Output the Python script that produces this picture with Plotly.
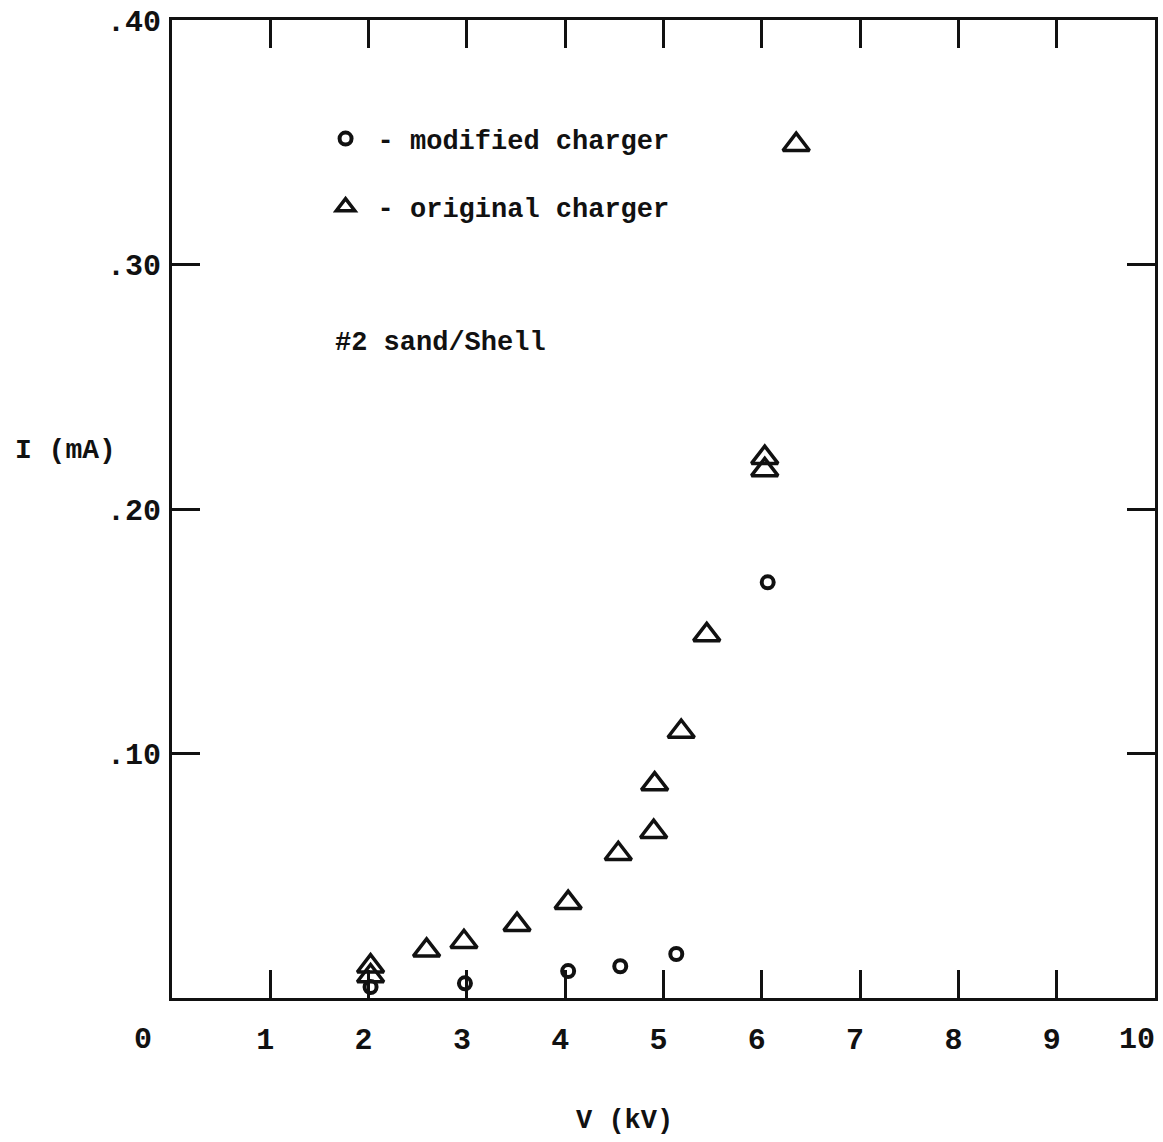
import plotly.graph_objects as go

# ---- data ----
x_modified = [2.02, 2.98, 4.03, 4.56, 5.13, 6.06]
y_modified = [0.0045, 0.006, 0.011, 0.013, 0.018, 0.170]

x_original = [2.02, 2.02, 2.59, 2.97, 3.51, 4.03, 4.54, 4.90, 4.91, 5.18, 5.44, 6.03, 6.03, 6.35]
y_original = [0.009, 0.013, 0.0195, 0.023, 0.030, 0.039, 0.059, 0.068, 0.0875, 0.109, 0.1485, 0.216, 0.221, 0.349]

x_tickvals = [0, 1, 2, 3, 4, 5, 6, 7, 8, 9, 10]
x_ticktext = ["", "1", "2", "3", "4", "5", "6", "7", "8", "9", ""]
x_end_labels = ["0", "10"]
x_end_values = [0, 10]
y_tickvals = [0, 0.10, 0.20, 0.30, 0.40]
y_ticktext = ["", ".10", ".20", ".30", ".40"]

name_modified = "- modified charger"
name_original = "- original charger"
note_text = "#2 sand/Shell"
x_title = "V (kV)"
y_title = "I (mA)"

FONT = "Liberation Mono"
INK = "#111111"

fig = go.Figure()
fig.add_trace(go.Scatter(
    x=x_modified, y=y_modified, mode="markers", name=name_modified,
    legendgroup="a",
    marker=dict(symbol="circle-open", size=12, color=INK, line=dict(width=4, color=INK)),
    cliponaxis=False,
))
fig.add_trace(go.Scatter(
    x=x_original, y=y_original, mode="markers", name=name_original,
    legendgroup="b",
    marker=dict(symbol="triangle-up-open", size=23, color=INK,
                line=dict(width=3.5, color=INK)),
    cliponaxis=False,
))

fig.add_annotation(text=note_text, xref="paper", yref="paper",
                   x=(333 - 172) / 986, y=1 - (340 - 15) / 983,
                   xanchor="left", yanchor="middle", showarrow=False,
                   font=dict(family=FONT, size=27, color=INK, weight="bold"))
fig.add_annotation(text=y_title, xref="paper", yref="paper",
                   x=(13 - 172) / 986, y=1 - (448 - 15) / 983,
                   xanchor="left", yanchor="middle", showarrow=False,
                   font=dict(family=FONT, size=28, color=INK, weight="bold"))
fig.add_annotation(text=x_title, xref="paper", yref="paper",
                   x=(626 - 172) / 986, y=1 - (1122 - 15) / 983,
                   xanchor="center", yanchor="middle", showarrow=False,
                   font=dict(family=FONT, size=27, color=INK, weight="bold"))

# end labels of the x axis sit slightly off the frame corners
end_shifts = [-29, -18]
for lab, val, sh in zip(x_end_labels, x_end_values, end_shifts):
    fig.add_annotation(text=lab, x=val, xref="x", yref="paper", y=0,
                       yshift=-42, xshift=sh, xanchor="center", yanchor="middle",
                       showarrow=False,
                       font=dict(family=FONT, size=30, color=INK, weight="bold"))

axis_common = dict(
    showgrid=False, zeroline=False, showline=True, linewidth=3, linecolor=INK,
    mirror="ticks", ticks="inside", ticklen=28, tickwidth=3, tickcolor=INK,
    tickfont=dict(family=FONT, size=30, color=INK, weight="bold"),
)

fig.update_xaxes(range=[0, 10], tickvals=x_tickvals, ticktext=x_ticktext,
                 ticklabelstandoff=12, ticklabelshift=-5, **axis_common)
fig.update_yaxes(range=[0, 0.40], tickvals=y_tickvals, ticktext=y_ticktext,
                 ticklabelstandoff=2, **axis_common)

fig.update_layout(
    width=1163, height=1142,
    margin=dict(l=172, r=5, t=15, b=144),
    paper_bgcolor="white", plot_bgcolor="white",
    showlegend=True,
    legend=dict(x=(314 - 172) / 986, y=1 - (110 - 15) / 983, xanchor="left", yanchor="top",
                bgcolor="rgba(0,0,0,0)", borderwidth=0, itemwidth=54,
                traceorder="grouped", tracegroupgap=30,
                font=dict(family=FONT, size=27, color=INK, weight="bold")),
)

fig.write_html("out.html")
